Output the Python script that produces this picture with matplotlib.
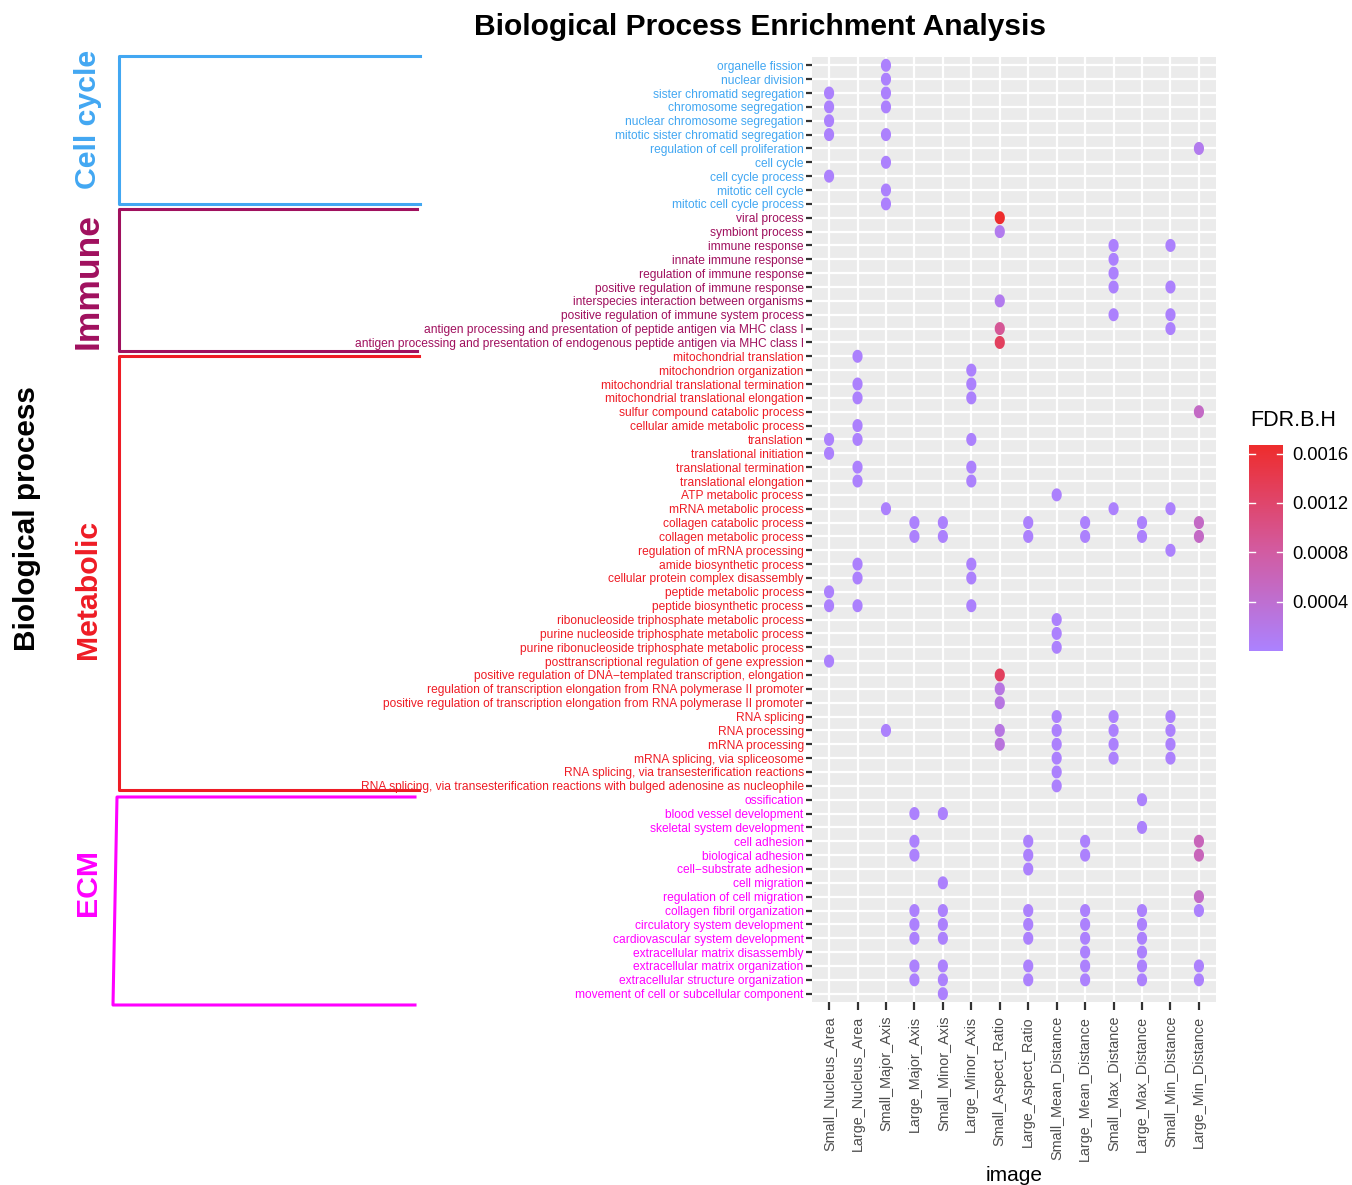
import matplotlib.pyplot as plt
import numpy as np
from matplotlib.path import Path
from matplotlib.lines import Line2D
from matplotlib.colors import LinearSegmentedColormap, Normalize
from matplotlib.cm import ScalarMappable

FONT = ['Liberation Sans', 'DejaVu Sans']

samples = ["Small_Nucleus_Area", "Large_Nucleus_Area", "Small_Major_Axis",
           "Large_Major_Axis", "Small_Minor_Axis", "Large_Minor_Axis",
           "Small_Aspect_Ratio", "Large_Aspect_Ratio", "Small_Mean_Distance",
           "Large_Mean_Distance", "Small_Max_Distance", "Large_Max_Distance",
           "Small_Min_Distance", "Large_Min_Distance"]

# terms (top to bottom) and the sample columns where each one is enriched
cell_cycle_terms = ["organelle fission", "nuclear division", "sister chromatid segregation",
                    "chromosome segregation", "nuclear chromosome segregation",
                    "mitotic sister chromatid segregation", "regulation of cell proliferation",
                    "cell cycle", "cell cycle process", "mitotic cell cycle",
                    "mitotic cell cycle process"]
cell_cycle_hits = [[2], [2], [0, 2], [0, 2], [0], [0, 2], [13], [2], [0], [2], [2]]

immune_terms = ["viral process", "symbiont process", "immune response", "innate immune response",
                "regulation of immune response", "positive regulation of immune response",
                "interspecies interaction between organisms",
                "positive regulation of immune system process",
                "antigen processing and presentation of peptide antigen via MHC class I",
                "antigen processing and presentation of endogenous peptide antigen via MHC class I"]
immune_hits = [[6], [6], [10, 12], [10], [10], [10, 12], [6], [10, 12], [6, 12], [6]]

metabolic_terms = ["mitochondrial translation", "mitochondrion organization",
                   "mitochondrial translational termination", "mitochondrial translational elongation",
                   "sulfur compound catabolic process", "cellular amide metabolic process",
                   "translation", "translational initiation", "translational termination",
                   "translational elongation", "ATP metabolic process", "mRNA metabolic process",
                   "collagen catabolic process", "collagen metabolic process",
                   "regulation of mRNA processing", "amide biosynthetic process",
                   "cellular protein complex disassembly", "peptide metabolic process",
                   "peptide biosynthetic process", "ribonucleoside triphosphate metabolic process",
                   "purine nucleoside triphosphate metabolic process",
                   "purine ribonucleoside triphosphate metabolic process",
                   "posttranscriptional regulation of gene expression",
                   "positive regulation of DNA\u2212templated transcription, elongation",
                   "regulation of transcription elongation from RNA polymerase II promoter",
                   "positive regulation of transcription elongation from RNA polymerase II promoter",
                   "RNA splicing", "RNA processing", "mRNA processing",
                   "mRNA splicing, via spliceosome", "RNA splicing, via transesterification reactions",
                   "RNA splicing, via transesterification reactions with bulged adenosine as nucleophile"]
metabolic_hits = [[1], [5], [1, 5], [1, 5], [13], [1], [0, 1, 5], [0], [1, 5], [1, 5], [8],
                  [2, 10, 12], [3, 4, 7, 9, 11, 13], [3, 4, 7, 9, 11, 13], [12], [1, 5], [1, 5],
                  [0], [0, 1, 5], [8], [8], [8], [0], [6], [6], [6], [8, 10, 12],
                  [2, 6, 8, 10, 12], [6, 8, 10, 12], [8, 10, 12], [8], [8]]

ecm_terms = ["ossification", "blood vessel development", "skeletal system development",
             "cell adhesion", "biological adhesion", "cell\u2212substrate adhesion", "cell migration",
             "regulation of cell migration", "collagen fibril organization",
             "circulatory system development", "cardiovascular system development",
             "extracellular matrix disassembly", "extracellular matrix organization",
             "extracellular structure organization", "movement of cell or subcellular component"]
ecm_hits = [[11], [3, 4], [11], [3, 7, 9, 13], [3, 7, 9, 13], [7], [4], [13],
            [3, 4, 7, 9, 11, 13], [3, 4, 7, 9, 11], [3, 4, 7, 9, 11], [9, 11],
            [3, 4, 7, 9, 11, 13], [3, 4, 7, 9, 11, 13], [4]]

# FDR values; most dots are at the very low end of the scale
fdr_low = 2e-5
fdr_values = {
    ("viral process", 6): 0.00167,
    ("symbiont process", 6): 0.00015,
    ("interspecies interaction between organisms", 6): 0.00015,
    ("antigen processing and presentation of peptide antigen via MHC class I", 6): 0.0009,
    ("antigen processing and presentation of endogenous peptide antigen via MHC class I", 6): 0.0013,
    ("regulation of cell proliferation", 13): 0.00015,
    ("sulfur compound catabolic process", 13): 0.0005,
    ("collagen catabolic process", 13): 0.0005,
    ("collagen metabolic process", 13): 0.0005,
    ("positive regulation of DNA\u2212templated transcription, elongation", 6): 0.0013,
    ("regulation of transcription elongation from RNA polymerase II promoter", 6): 0.00025,
    ("positive regulation of transcription elongation from RNA polymerase II promoter", 6): 0.00025,
    ("RNA processing", 6): 0.00025,
    ("mRNA processing", 6): 0.0003,
    ("cell adhesion", 13): 0.0006,
    ("biological adhesion", 13): 0.0006,
    ("regulation of cell migration", 13): 0.0005,
}

groups = ["Cell cycle", "Immune", "Metabolic", "ECM"]
group_colors = ["#42A7F2", "#A0105E", "#EE1C25", "#FF00FF"]
group_terms = [cell_cycle_terms, immune_terms, metabolic_terms, ecm_terms]
group_hits = [cell_cycle_hits, immune_hits, metabolic_hits, ecm_hits]

terms, term_colors, xs, ys, vals = [], [], [], [], []
for terms_g, hits_g, col in zip(group_terms, group_hits, group_colors):
    for t, h in zip(terms_g, hits_g):
        row = len(terms)
        terms.append(t)
        term_colors.append(col)
        for j in h:
            xs.append(j)
            ys.append(row)
            vals.append(fdr_values.get((t, j), fdr_low))

cmap = LinearSegmentedColormap.from_list("fdr", ["#AB82FF", "#D35A9E", "#EE2C2C"])
norm = Normalize(vmin=0.0, vmax=max(vals))

fig = plt.figure(figsize=(13.52, 11.85), dpi=100)
W, H = 1352, 1185

def fx(px):
    return px / W

def fy(py):
    return 1 - py / H

ax = fig.add_axes([fx(812), fy(1002), fx(1216) - fx(812), fy(57) - fy(1002)])
ax.set_facecolor("#EBEBEB")
for s in ax.spines.values():
    s.set_visible(False)
ax.set_xlim(-0.6, len(samples) - 0.4)
ax.set_ylim(len(terms) - 0.4, -0.6)
ax.set_xticks(range(len(samples)))
ax.set_yticks(range(len(terms)))
ax.grid(True, color="white", linewidth=1.6)
ax.set_axisbelow(True)

# slightly squashed dots, as in the reference
th = np.linspace(0, 2 * np.pi, 60)
dot = Path(np.column_stack([0.78 * np.cos(th), np.sin(th)]), closed=True)
ax.scatter(xs, ys, c=vals, cmap=cmap, norm=norm, s=88, marker=dot, linewidths=0, zorder=3)

ax.set_xticklabels(samples, rotation=90, family=FONT, fontsize=10.4, color="#4D4D4D")
ax.set_yticklabels(terms, family=FONT, fontsize=8.65)
for lbl, c in zip(ax.get_yticklabels(), term_colors):
    lbl.set_color(c)
ax.tick_params(axis="y", length=4, width=1.6, color="#333333", pad=2)
ax.tick_params(axis="x", length=6, width=1.6, color="#333333", pad=4)
ax.set_xlabel("image", family=FONT, fontsize=15, labelpad=4)

fig.text(fx(760), fy(27), "Biological Process Enrichment Analysis", family=FONT,
         fontsize=21.6, fontweight="bold", ha="center", va="center")
fig.text(fx(27), fy(519), "Biological process", family=FONT, fontsize=21.4,
         fontweight="bold", rotation=90, ha="center", va="center")

# group brackets on the left: (top, bottom, x at top, x at bottom, right end)
label_y = [119, 281, 589, 882]
label_size = [21.8, 25.5, 21.8, 21.8]
brackets = [(56, 204, 119, 119, 420), (209, 351, 119, 119, 417),
            (356, 790, 119, 119, 419), (797, 1005, 117, 113, 415)]
for g, c, ly, fs, (top, bot, xt, xb, xr) in zip(groups, group_colors, label_y, label_size, brackets):
    fig.text(fx(88), fy(ly), g, family=FONT, fontsize=fs, fontweight="bold",
             color=c, rotation=90, ha="center", va="center")
    fig.add_artist(Line2D([fx(xr), fx(xt), fx(xb), fx(xr)], [fy(top), fy(top), fy(bot), fy(bot)],
                          color=c, linewidth=2.2, transform=fig.transFigure))

# colour bar legend
cax = fig.add_axes([fx(1249), fy(651), fx(1283) - fx(1249), fy(445) - fy(651)])
cb = fig.colorbar(ScalarMappable(norm=norm, cmap=cmap), cax=cax, ticks=[0.0004, 0.0008, 0.0012, 0.0016])
cb.outline.set_visible(False)
cb.ax.set_yticklabels(["0.0004", "0.0008", "0.0012", "0.0016"], family=FONT, fontsize=13.2)
cb.ax.tick_params(length=0, pad=7)
for t in [0.0004, 0.0008, 0.0012, 0.0016]:
    cax.plot([0, 0.18], [t, t], color="white", lw=1, transform=cax.get_yaxis_transform())
    cax.plot([0.82, 1], [t, t], color="white", lw=1, transform=cax.get_yaxis_transform())
fig.text(fx(1250), fy(420), "FDR.B.H", family=FONT, fontsize=15.5, ha="left", va="center")

fig.savefig("out.png", dpi=100)
